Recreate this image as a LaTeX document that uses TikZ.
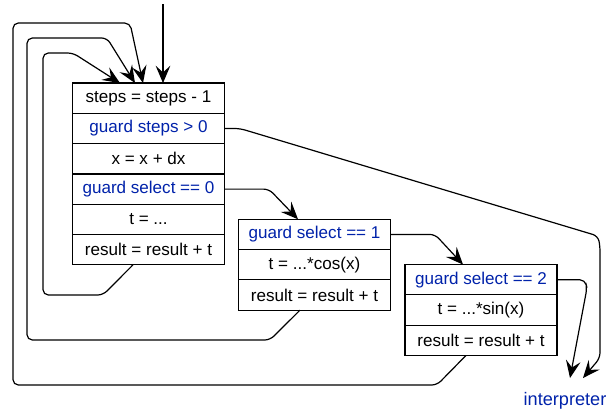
\documentclass[tikz,border=0pt]{standalone}
\usepackage{fontspec}
\setmainfont{Liberation Sans}
\usetikzlibrary{arrows.meta,calc}
\definecolor{guardblue}{RGB}{0,34,170}
\begin{document}
\begin{tikzpicture}[x=0.75pt,y=-0.75pt,
  row/.style={draw,fill=white,line width=0.9pt,minimum width=114pt,minimum height=22.7pt,
    inner sep=0pt,outer sep=0pt,font=\fontsize{12.8}{14}\selectfont},
  grd/.style={row,text=guardblue},
  arr/.style={line width=0.9pt,rounded corners=4pt,-{Stealth[length=13pt,width=11pt,inset=5pt]}},
  back/.style={line width=0.9pt,rounded corners=4pt}]
\useasboundingbox (0,0) rectangle (611,411);

% main loop body
\node[row] (a1) at (148.5,98.2) {steps = steps - 1};
\node[grd] (a2) at (148.5,128.5) {guard steps > 0};
\node[row] (a3) at (148.5,158.8) {x = x + dx};
\node[grd] (a4) at (148.5,189.1) {guard select == 0};
\node[row] (a5) at (148.5,219.4) {t = ...};
\node[row] (a6) at (148.5,249.7) {result = result + t};

% select == 1 branch
\node[grd] (b1) at (314.5,234.4) {guard select == 1};
\node[row] (b2) at (314.5,264.7) {t = ...*cos(x)};
\node[row] (b3) at (314.5,295.0) {result = result + t};

% select == 2 branch
\node[grd] (c1) at (481,279.7) {guard select == 2};
\node[row] (c2) at (481,310.0) {t = ...*sin(x)};
\node[row] (c3) at (481,340.3) {result = result + t};

\node[text=guardblue,inner sep=0pt,font=\fontsize{13.6}{15}\selectfont] (interp) at (565,401) {interpreter};

\coordinate (entry) at (163,4);

% entry
\draw[arr] (entry) -- (entry |- a1.north);

% loop back edges
\draw[arr] ($(a6.south)+(-15.5,0)$) -- (103,295) -- (43,295) -- (43,53) -- (73,53) -- ($(a1.north)+(-28.5,0)$);
\draw[arr] ($(b3.south)+(-14.5,0)$) -- (270,340) -- (27,340) -- (27,38) -- (107,38) -- ($(a1.north)+(-13.5,0)$);
\draw[arr] ($(c3.south)+(-15,0)$) -- (437,385) -- (13,385) -- (13,23) -- (130,23) -- ($(a1.north)+(-5.5,0)$);

% guard branches
\draw[arr] (a4.east) -- (269,189.1) -- ($(b1.north)+(-16.5,0)$);
\draw[arr] (b1.east) -- (435,234.4) -- ($(c1.north)+(-18,0)$);

% guard failures to interpreter
\draw[arr] (c1.east) -- (585,279.7) -- (587,288) -- ($(interp.center)+(5,-23)$);
\draw[arr] (a2.east) -- (240,128.5) -- (598,236) -- (600,246) -- (600,358) -- ($(interp.center)+(18,-23)$);
\end{tikzpicture}
\end{document}
